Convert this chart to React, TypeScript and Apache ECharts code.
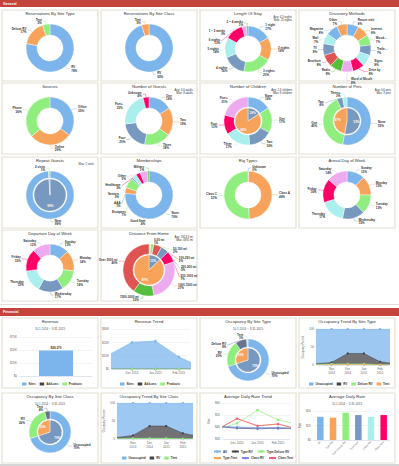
import React, { useEffect, useRef } from "react";
import * as echarts from "echarts";

const FONT = "'Liberation Sans', Arial, sans-serif";
const SAND = ["#7cb5ec", "#f7a35c", "#90ee7e", "#7798BF", "#aaeeee", "#ff0066", "#eeaaee", "#55BF3B", "#DF5353", "#7798BF", "#aaeeee"];
const HC = ["#7cb5ec", "#434348", "#90ed7d", "#f7a35c", "#8085e9", "#f15c80"];
// Highcharts area fill (75% opacity over white)
const HC_FILL = ["#9dc8f1", "#727276", "#acf29e", "#f9ba85"];

// ---------- titles ----------
const generalTitles = [
  "Reservations By Site Type", "Reservations By Site Class", "Length Of Stay", "Discovery Methods",
  "Sources", "Number of Guests", "Number of Children", "Number of Pets",
  "Repeat Guests", "Memberships", "Rig Types", "Arrival Day of Week",
  "Departure Day of Week", "Distance From Home",
];
const financialTitles = [
  "Revenue", "Revenue Trend", "Occupancy By Site Type", "Occupancy Trend By Site Type",
  "Occupancy By Site Class", "Occupancy Trend By Site Class", "Average Daily Rate Trend", "Average Daily Rate",
];
const dateRange = "10.1.2014 ~ 3.31.2015";
const subtitled = [0, 2, 4, 7];

// ---------- General data ----------
const siteTypeNames = ["RV", "Deluxe RV", "Tent"];
const siteTypeValues = [78, 17, 5];
const siteClassNames = ["RV", "Tent"];
const siteClassValues = [95, 5];
const stayNames = ["1 night", "2 nights", "3 nights", "4 nights", "5 nights", "6 nights", "1 ~ 2 weeks", "2 ~ 4 weeks"];
const stayValues = [17, 16, 20, 16, 14, 13, 3, 1];
const stayStats = ["Avg: 4.5 nights", "Max: 25 nights"];
const discoveryNames = ["Return visit", "Internet", "Woodall's", "Trailer Life", "Signs", "Drive by", "Word of Mouth", "Radio", "Brochure", "TV", "Mail", "Magazine", "Other"];
const discoveryValues = [8, 8, 7, 7, 8, 8, 8, 8, 8, 8, 7, 8, 7];
const sourceNames = ["Office", "Online", "Phone"];
const sourceValues = [35, 29, 36];
const guestNames = ["One", "Two", "Three", "Four", "Five+", "Unknown"];
const guestValues = [16, 19, 18, 20, 23, 4];
const guestStats = ["Avg: 3.0 adults", "Max: 8 adults"];
const childNames = ["None", "One", "Two", "Three", "Four", "Five+"];
const childValues = [16, 17, 16, 17, 13, 21];
const childInnerNames = ["No children", "With children"];
const childInnerValues = [16, 84];
const childStats = ["Avg: 2.3 children", "Max: 8 children"];
const petNames = ["None", "One", "Two", "Three+"];
const petValues = [53, 40, 4, 3];
const petInnerNames = ["No pets", "With pets"];
const petInnerValues = [53, 47];
const petStats = ["Avg: 0.6 pets", "Max: 3 pets"];
const repeatNames = ["New", "2 visits"];
const repeatValues = [99, 1];
const repeatInnerNames = ["First visit", "Repeat"];
const repeatInnerValues = [99, 1];
const repeatStats = ["Max: 2 visits"];
const memberNames = ["None", "Good Sam", "Escapees", "AAA", "Seniors", "Healthcare", "Other", "Military"];
const memberValues = [76, 4, 7, 1, 3, 3, 5, 1];
const rigNames = ["Unknown", "Class A", "Class C"];
const rigValues = [0.4, 49, 51];
const dayNames = ["Sunday", "Monday", "Tuesday", "Wednesday", "Thursday", "Friday", "Saturday"];
const arrivalValues = [12, 13, 13, 15, 17, 16, 14];
const departureValues = [13, 14, 14, 17, 15, 15, 12];
const distanceNames = ["0-50 mi", "50-100 mi", "100-250 mi", "250-500 mi", "500-1000 mi", "1000-1500 mi", "1500-3000 mi", "Over 3000 mi"];
const distanceValues = [1, 2, 5, 5, 7, 27, 13, 40];
const distanceColors = ["#aaeeee", "#90ee7e", "#DF5353", "#7798BF", "#ff0066", "#eeaaee", "#55BF3B", "#DF5353"];
const distanceInnerNames = ["Under 500 mi", "500 mi and over"];
const distanceInnerValues = [13, 87];
const distanceStats = ["Avg: 1953.3 mi", "Max: 4891 mi"];

// ---------- Financial data ----------
const revenueSeries = ["Sites", "Add-ons", "Products"];
const revenueValues = [49270, 0, 0];
const trendMonths = ["Nov 2014", "Dec 2014", "Jan 2015", "Feb 2015", "Mar 2015"];
const trendSites = [10500, 20000, 21000, 9000, 1000];
const trendAddons = [0, 0, 0, 0, 0];
const trendProducts = [0, 0, 0, 0, 0];

const occTypeNames = ["Unoccupied", "RV", "Deluxe RV", "Tent"];
const occTypeValues = [70, 20, 9, 1];
const occTypeColors = ["#7cb5ec", "#90ee7e", "#66758c", "#aaeeee"];
const occInnerNames = ["Vacant", "Occupied"];
const occTypeInnerValues = [70, 30];
const occClassNames = ["Unoccupied", "RV", "Tent"];
const occClassValues = [70, 26, 4];
const occClassColors = ["#7cb5ec", "#90ee7e", "#66758c"];
const occClassInnerValues = [70, 30];

const occMonths = ["Oct 2014", "Nov 2014", "Dec 2014", "Jan 2015", "Feb 2015", "Mar 2015"];
const occTypeUnocc = [97, 93, 68, 68, 91, 97];
const occTypeRV = [2, 4, 29, 29, 8, 3];
const occTypeDeluxe = [1, 2, 2, 2, 1, 0];
const occTypeTent = [0, 1, 1, 1, 0, 0];
const occClassUnocc = [96, 90, 64, 64, 84, 93];
const occClassRV = [3, 8, 34, 34, 15, 6];
const occClassTent = [1, 2, 2, 2, 1, 1];

const adrSeriesNames = ["All", "Type:RV", "Type:Deluxe RV", "Type:Tent", "Class:RV", "Class:Tent"];
const adrAll = [40.5, 40, 39.5, 39.5, 39];
const adrTypeRV = [40.5, 39, 38.5, 39, 38.5];
const adrTypeDeluxe = [38, 43, 54, 46, 42];
const adrTypeTent = [37.5, 47, 41, 42.5, 38];
const adrClassRV = [40.5, 39.5, 39, 39, 38.5];
const adrClassTent = [37.5, 47, 41, 42.5, 38];
const adrBarCats = ["All", "Type:RV", "Type:Deluxe RV", "Type:Tent", "Class:RV", "Class:Tent"];
const adrBarValues = [40, 38.5, 47, 43, 40, 43];

// ---------- layout ----------
const COLS = [2, 101, 200, 299];
const PW = 96;
const GROWS = [10, 83, 157, 230];
const GH = 71;
const FROWS = [318, 393];
const FH = 70;

const axisText = { fontSize: 3, color: "#666", fontFamily: FONT };
const splitL = { show: true, lineStyle: { color: "#e6e6e6", width: 0.5 } };
const axisL = { show: true, onZero: false, lineStyle: { color: "#ccd6eb", width: 0.5 } };

function ring(names: string[], values: number[], colors: string[], cx: number, cy: number, r0: number, r1: number) {
  return {
    type: "pie",
    center: [cx, cy],
    radius: [r0, r1],
    startAngle: 90,
    clockwise: true,
    silent: true,
    avoidLabelOverlap: true,
    itemStyle: { borderColor: "#fff", borderWidth: 0.4 },
    label: {
      show: true,
      formatter: (p: any) => `${p.name}\n${Math.round(p.percent)}%`,
      fontSize: 3,
      lineHeight: 3.5,
      fontWeight: "bold",
      color: "#333",
      fontFamily: FONT,
      distanceToLabelLine: 1,
    },
    labelLine: { show: true, length: 3, length2: 3, lineStyle: { width: 0.4 } },
    data: names.map((n, i) => ({ name: n, value: values[i], itemStyle: { color: colors[i % colors.length] } })),
  };
}

function innerPie(names: string[], values: number[], colors: string[], cx: number, cy: number, r: number) {
  return {
    type: "pie",
    center: [cx, cy],
    radius: [0, r],
    startAngle: 90,
    clockwise: true,
    silent: true,
    itemStyle: { borderColor: "#fff", borderWidth: 0.4 },
    label: {
      show: true,
      position: "inside",
      formatter: (p: any) => (p.percent >= 5 ? `${Math.round(p.percent)}%` : ""),
      fontSize: 3,
      fontWeight: "bold",
      color: "#fff",
      fontFamily: FONT,
    },
    labelLine: { show: false },
    data: names.map((n, i) => ({ name: n, value: values[i], itemStyle: { color: colors[i % colors.length] } })),
  };
}

function pairs(vals: (number | null)[]) {
  return vals.map((v, i) => [i, v]);
}

// cumulative layers (bottom -> top) drawn top-first so they look stacked
function stackedLayers(layers: [string, number[], number][], xIdx: number) {
  const cums: number[][] = [];
  layers.forEach(([, v], k) => {
    cums.push(v.map((x, i) => x + (k > 0 ? cums[k - 1][i] : 0)));
  });
  const out: any[] = [];
  for (let k = layers.length - 1; k >= 0; k--) {
    const [name, , ci] = layers[k];
    out.push({
      type: "line", name, xAxisIndex: xIdx, yAxisIndex: xIdx, silent: true,
      z: 2 + (layers.length - k),
      symbol: "circle", symbolSize: 2.2,
      itemStyle: { color: HC[ci] }, lineStyle: { width: 0.5, color: HC[ci] },
      areaStyle: { color: HC_FILL[ci], opacity: 1 },
      data: pairs(cums[k]),
    });
  }
  return out;
}

function legendOf(names: string[], colors: string[], left: number, top: number, icon?: string) {
  return {
    left,
    top,
    padding: 0,
    itemGap: 4,
    itemWidth: icon ? 4.5 : 7,
    itemHeight: 3,
    selectedMode: false,
    textStyle: { fontSize: 3, fontWeight: "bold", color: "#333", fontFamily: FONT, padding: [0, 0, 0, -3] },
    data: names.map((n, i) =>
      icon ? { name: n, icon, itemStyle: { color: colors[i] } } : { name: n }
    ),
  };
}

function text(t: string, x: number, y: number, size: number, align: string, fill = "#333", weight = "normal") {
  return {
    type: "text",
    x,
    y,
    z: 50,
    silent: true,
    style: {
      text: t,
      fill,
      fontSize: size,
      fontWeight: weight,
      fontFamily: FONT,
      align,
      verticalAlign: "middle",
      textAlign: align,
      textVerticalAlign: "middle",
    },
  };
}

function buildOption() {
  const graphic: any[] = [];
  graphic.push({ type: "rect", z: 0, shape: { x: 0, y: 0, width: 399, height: 7 }, style: { fill: "#c4433b" } });
  graphic.push(text("General", 3, 3.6, 3.6, "left", "#fff", "bold"));
  graphic.push({ type: "line", z: 0, shape: { x1: 0, y1: 304.5, x2: 399, y2: 304.5 }, style: { stroke: "#dddddd", lineWidth: 1 } });
  graphic.push({ type: "rect", z: 0, shape: { x: 0, y: 308, width: 399, height: 8 }, style: { fill: "#c4433b" } });
  graphic.push(text("Financial", 3, 312, 3.6, "left", "#fff", "bold"));
  graphic.push({ type: "rect", z: 0, shape: { x: 0, y: 464, width: 399, height: 2 }, style: { fill: "#d6d6d6" } });

  generalTitles.forEach((t, i) => {
    const c = i % 4;
    const r = Math.floor(i / 4);
    graphic.push({ type: "rect", z: 0, shape: { x: COLS[c], y: GROWS[r], width: PW, height: GH }, style: { fill: "#fff", stroke: "#e4e0d3", lineWidth: 1.2 } });
    graphic.push(text(t, COLS[c] + PW / 2, GROWS[r] + 3.8, 4.2, "center"));
  });
  financialTitles.forEach((t, i) => {
    const c = i % 4;
    const r = Math.floor(i / 4);
    graphic.push({ type: "rect", z: 0, shape: { x: COLS[c], y: FROWS[r], width: PW, height: FH }, style: { fill: "#fff", stroke: "#e4e0d3", lineWidth: 1.2 } });
    graphic.push(text(t, COLS[c] + PW / 2, FROWS[r] + 3.8, 4.2, "center"));
    if (subtitled.includes(i)) graphic.push(text(dateRange, COLS[c] + PW / 2, FROWS[r] + 11, 3, "center", "#555"));
  });

  const stats: [string[], number, number][] = [
    [stayStats, 2, 0], [guestStats, 1, 1], [childStats, 2, 1], [petStats, 3, 1], [repeatStats, 0, 2], [distanceStats, 1, 3],
  ];
  stats.forEach(([lines, c, r]) => {
    lines.forEach((l, k) => graphic.push(text(l, COLS[c] + 92, GROWS[r] + 6.5 + k * 3.5, 2.8, "right", "#333")));
  });

  const pc = (c: number, r: number): [number, number] => [COLS[c] + 48, GROWS[r] + 38];

  const series: any[] = [
    ring(siteTypeNames, siteTypeValues, SAND, ...pc(0, 0), 13, 24),
    ring(siteClassNames, siteClassValues, SAND, ...pc(1, 0), 13, 24),
    ring(stayNames, stayValues, SAND, COLS[2] + 48, GROWS[0] + 39, 13, 23),
    ring(discoveryNames, discoveryValues, SAND, ...pc(3, 0), 13, 24),
    ring(sourceNames, sourceValues, SAND, ...pc(0, 1), 13, 24),
    ring(guestNames, guestValues, SAND, ...pc(1, 1), 13, 24),
    innerPie(childInnerNames, childInnerValues, [SAND[3], SAND[1]], ...pc(2, 1), 13),
    ring(childNames, childValues, [SAND[0], SAND[2], SAND[3], SAND[4], SAND[5], SAND[6]], ...pc(2, 1), 14, 24),
    innerPie(petInnerNames, petInnerValues, [SAND[3], SAND[1]], ...pc(3, 1), 13),
    ring(petNames, petValues, [SAND[0], SAND[2], SAND[3], SAND[4]], ...pc(3, 1), 14, 24),
    innerPie(repeatInnerNames, repeatInnerValues, [SAND[3], SAND[1]], ...pc(0, 2), 16),
    ring(repeatNames, repeatValues, [SAND[0], SAND[2]], ...pc(0, 2), 17, 24),
    ring(memberNames, memberValues, SAND, ...pc(1, 2), 13, 24),
    ring(rigNames, rigValues, SAND, ...pc(2, 2), 13, 24),
    ring(dayNames, arrivalValues, SAND, ...pc(3, 2), 13, 24),
    ring(dayNames, departureValues, SAND, ...pc(0, 3), 13, 24),
    innerPie(distanceInnerNames, distanceInnerValues, [SAND[3], SAND[1]], COLS[1] + 48, GROWS[3] + 40, 15),
    ring(distanceNames, distanceValues, distanceColors, COLS[1] + 48, GROWS[3] + 40, 16, 26),
    innerPie(occInnerNames, occTypeInnerValues, [SAND[3], SAND[1]], COLS[2] + 48, FROWS[0] + 42, 12),
    ring(occTypeNames, occTypeValues, occTypeColors, COLS[2] + 48, FROWS[0] + 42, 13, 21),
    innerPie(occInnerNames, occClassInnerValues, [SAND[3], SAND[1]], COLS[0] + 48, FROWS[1] + 39, 12),
    ring(occClassNames, occClassValues, occClassColors, COLS[0] + 48, FROWS[1] + 39, 13, 21),
  ];

  // Revenue bars
  revenueSeries.forEach((n, i) => {
    series.push({
      type: "bar", name: n, xAxisIndex: 0, yAxisIndex: 0, stack: "rev", barWidth: 34, silent: true,
      itemStyle: { color: HC[i] },
      label: i === 0 ? { show: true, position: "top", distance: 1, fontSize: 3, fontWeight: "bold", color: "#333", fontFamily: FONT, formatter: (p: any) => "$" + Number(p.value).toLocaleString("en-US") } : { show: false },
      data: [revenueValues[i]],
    });
  });

  // Revenue trend
  const trendData = [trendSites, trendAddons, trendProducts];
  revenueSeries.forEach((n, i) => {
    series.push({
      type: "line", name: n, xAxisIndex: 1, yAxisIndex: 1, silent: true,
      symbol: "circle", symbolSize: 2.5, showAllSymbol: true, z: 2 + i,
      itemStyle: { color: HC[i] }, lineStyle: { width: 0.6, color: HC[i] },
      areaStyle: { color: HC[i], opacity: 0.75 },
      data: pairs(trendData[i]),
    });
  });

  // Occupancy trends (stacked look)
  series.push(...stackedLayers([["Tent", occTypeTent, 3], ["Deluxe RV", occTypeDeluxe, 2], ["RV", occTypeRV, 1], ["Unoccupied", occTypeUnocc, 0]], 2));
  series.push(...stackedLayers([["Tent", occClassTent, 2], ["RV", occClassRV, 1], ["Unoccupied", occClassUnocc, 0]], 3));

  // ADR trend
  const adrData = [adrAll, adrTypeRV, adrTypeDeluxe, adrTypeTent, adrClassRV, adrClassTent];
  const adrSymbols = ["circle", "diamond", "rect", "triangle", "triangle", "circle"];
  adrSeriesNames.forEach((n, i) => {
    series.push({
      type: "line", name: n, xAxisIndex: 4, yAxisIndex: 4, silent: true,
      symbol: adrSymbols[i], symbolSize: 2.4, itemStyle: { color: HC[i] }, lineStyle: { width: 0.7, color: HC[i] },
      data: pairs(adrData[i]),
    });
  });

  // ADR bars
  series.push({
    type: "bar", name: "Average Daily Rate", xAxisIndex: 5, yAxisIndex: 5, barWidth: 6.5, silent: true,
    data: adrBarValues.map((v, i) => ({ value: v, itemStyle: { color: SAND[i] } })),
  });

  const monthLabel = (arr: string[], twoLine: boolean) => (v: number) => {
    const s = arr[Math.round(v)] || "";
    return twoLine ? s.replace(" ", "\n") : s;
  };
  const tick = (vals: number[]) => ({ show: true, customValues: vals, length: 2, lineStyle: { color: "#ccd6eb", width: 0.5 } });

  const xAxis: any[] = [
    { type: "category", gridIndex: 0, data: [""], axisLabel: { show: false }, axisTick: { show: false }, axisLine: axisL },
    { type: "value", gridIndex: 1, min: 0.15, max: 3.47, splitLine: { show: false }, axisLine: axisL, axisTick: tick([1, 2, 3]),
      axisLabel: { ...axisText, margin: 2, customValues: [1, 2, 3], formatter: monthLabel(trendMonths, false) } },
    { type: "value", gridIndex: 2, min: 0.1, max: 4.55, splitLine: { show: false }, axisLine: axisL, axisTick: tick([1, 2, 3, 4]),
      axisLabel: { ...axisText, margin: 2, lineHeight: 3.5, customValues: [1, 2, 3, 4], formatter: monthLabel(occMonths, true) } },
    { type: "value", gridIndex: 3, min: 0.1, max: 4.55, splitLine: { show: false }, axisLine: axisL, axisTick: tick([1, 2, 3, 4]),
      axisLabel: { ...axisText, margin: 2, lineHeight: 3.5, customValues: [1, 2, 3, 4], formatter: monthLabel(occMonths, true) } },
    { type: "value", gridIndex: 4, min: 0.32, max: 3.58, splitLine: { show: false }, axisLine: axisL, axisTick: tick([1, 2, 3]),
      axisLabel: { ...axisText, margin: 2, customValues: [1, 2, 3], formatter: monthLabel(trendMonths, false) } },
    { type: "category", gridIndex: 5, data: adrBarCats, axisLine: axisL, axisTick: { show: false },
      axisLabel: { ...axisText, fontSize: 2.6, rotate: 45, interval: 0, margin: 2 } },
  ];

  const money = (v: number) => (v === 0 ? "$0" : "$" + v / 1000 + "K");
  const yBase = { type: "value", splitLine: splitL, axisLine: { show: false }, axisTick: { show: false } };
  const yName = (n: string) => ({ name: n, nameLocation: "middle", nameGap: 9, nameTextStyle: { ...axisText, fontSize: 2.6 } });
  const yAxis: any[] = [
    { ...yBase, gridIndex: 0, min: 0, max: 75000, interval: 25000, axisLabel: { ...axisText, margin: 3, formatter: money } },
    { ...yBase, gridIndex: 1, min: 0, max: 30000, interval: 10000, axisLabel: { ...axisText, margin: 3, formatter: money } },
    { ...yBase, gridIndex: 2, min: 0, max: 100, interval: 50, axisLabel: { ...axisText, margin: 3 }, ...yName("Occupancy Percent") },
    { ...yBase, gridIndex: 3, min: 0, max: 100, interval: 50, axisLabel: { ...axisText, margin: 3 }, ...yName("Occupancy Percent") },
    { ...yBase, gridIndex: 4, min: 30, max: 60, interval: 10, axisLabel: { ...axisText, margin: 3, formatter: (v: number) => "$" + v }, ...yName("Rate") },
    { ...yBase, gridIndex: 5, min: 0, max: 50, interval: 25, axisLabel: { ...axisText, margin: 3, formatter: (v: number) => "$" + v }, ...yName("Rate") },
  ];

  const grid = [
    { left: 20, top: 337, width: 72, height: 39 },
    { left: 112, top: 329, width: 78, height: 40 },
    { left: 317, top: 329, width: 72, height: 36 },
    { left: 118, top: 403, width: 74, height: 36 },
    { left: 223, top: 403, width: 67, height: 36 },
    { left: 314, top: 411, width: 76, height: 29 },
  ];

  const legend = [
    legendOf(revenueSeries, HC, 22, 382.5, "rect"),
    legendOf(revenueSeries, HC, 120, 382.5, "rect"),
    legendOf(["Unoccupied", "RV", "Deluxe RV", "Tent"], [HC[0], HC[1], HC[2], HC[3]], 309, 382.5, "rect"),
    legendOf(["Unoccupied", "RV", "Tent"], [HC[0], HC[1], HC[2]], 122, 456.5, "rect"),
    legendOf(adrSeriesNames.slice(0, 3), HC, 213, 450),
    legendOf(adrSeriesNames.slice(3), HC.slice(3), 213, 456.5),
  ];

  return {
    animation: false,
    backgroundColor: "#ffffff",
    textStyle: { fontFamily: FONT },
    graphic,
    grid,
    xAxis,
    yAxis,
    legend,
    series,
  };
}

export default function App() {
  const ref = useRef<HTMLDivElement>(null);
  useEffect(() => {
    document.body.style.margin = "0";
    const chart = echarts.init(ref.current as HTMLDivElement, null, { renderer: "svg" });
    chart.setOption(buildOption() as any);
    return () => chart.dispose();
  }, []);
  return <div ref={ref} style={{ width: 399, height: 466 }} />;
}
